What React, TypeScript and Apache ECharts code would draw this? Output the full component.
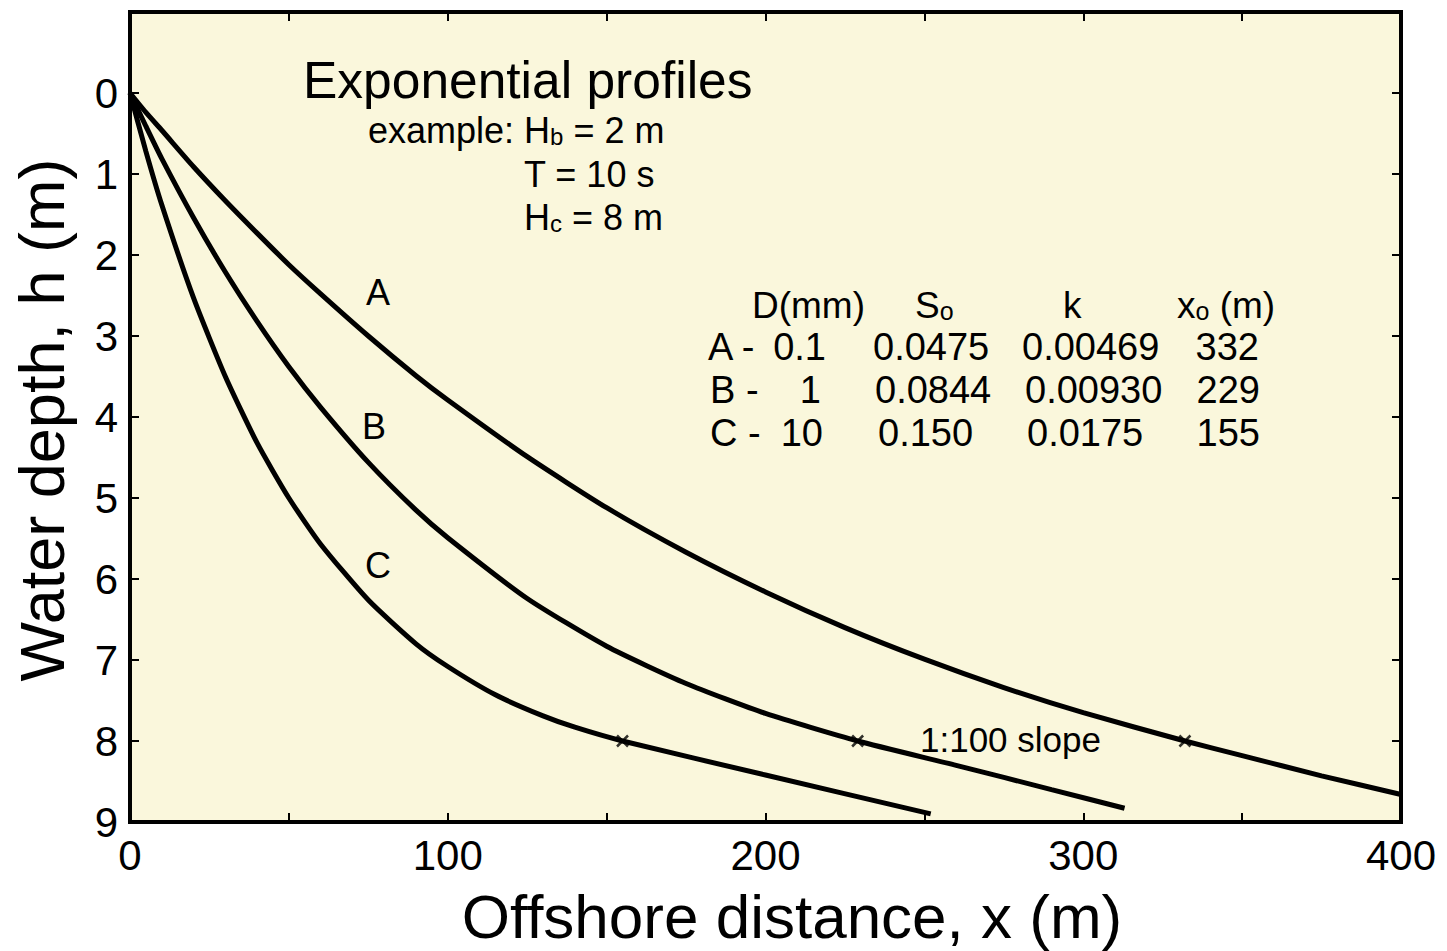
import React, { useEffect, useRef } from "react";
import * as echarts from "echarts";

// Profile A (D = 0.1 mm)
const distA = [0, 5, 10, 20, 30, 40, 50, 60, 75, 90, 100, 125, 150, 175, 200, 225, 250, 275, 300, 332, 350, 375, 400];
const depthA = [0, 0.24, 0.46, 0.91, 1.33, 1.73, 2.12, 2.48, 3.0, 3.49, 3.79, 4.49, 5.12, 5.67, 6.16, 6.6, 6.99, 7.34, 7.65, 8.0, 8.18, 8.43, 8.66];
// Profile B (D = 1 mm)
const distB = [0, 5, 10, 20, 30, 40, 50, 60, 75, 90, 100, 125, 150, 175, 200, 229, 260, 290, 313];
const depthB = [0, 0.41, 0.81, 1.54, 2.21, 2.82, 3.38, 3.88, 4.56, 5.15, 5.49, 6.24, 6.83, 7.29, 7.66, 8.0, 8.3, 8.6, 8.83];
// Profile C (D = 10 mm)
const distC = [0, 5, 10, 20, 30, 40, 50, 60, 75, 90, 100, 115, 130, 140, 155, 200, 252];
const depthC = [0, 0.72, 1.38, 2.53, 3.5, 4.32, 5.0, 5.57, 6.26, 6.8, 7.08, 7.43, 7.69, 7.83, 8.0, 8.42, 8.9];
// x0 points where profiles join the 1:100 slope
const joinDist = [332, 229, 155];
const joinDepth = [8, 8, 8];

const xTickLabels = [0, 100, 200, 300, 400];
const yTickLabels = [0, 1, 2, 3, 4, 5, 6, 7, 8, 9];

const FONT = '"Liberation Sans", Arial, Helvetica, sans-serif';
const BG = "#FAF7DC";

const zip = (xs: number[], ys: number[]) => xs.map((x, i) => [x, ys[i]]);

function txt(text: string, x: number, y: number, fontSize: number, align = "left", extra: any = {}) {
  return {
    type: "text",
    x,
    y,
    z: 100,
    ...extra,
    style: {
      text,
      fontSize,
      fontFamily: FONT,
      fill: "#000",
      align,
      verticalAlign: "middle",
      textAlign: align,
      textVerticalAlign: "middle",
      rich: {
        s: { fontSize: Math.round(fontSize * 0.68), fontFamily: FONT, fill: "#000", verticalAlign: "bottom" },
      },
    },
  };
}

export default function App() {
  const ref = useRef<HTMLDivElement>(null);
  useEffect(() => {
    const chart = echarts.init(ref.current!, null, { renderer: "svg" });
    const lineStyle = { color: "#000", width: 5 };
    const tickStyle = { color: "#000", width: 2 };
    const baseAxis = {
      type: "value",
      axisLine: { show: false, onZero: false },
      splitLine: { show: false },
      axisTick: { inside: true, length: 9, lineStyle: tickStyle },
    };
    const option: any = {
      animation: false,
      backgroundColor: "#fff",
      grid: {
        left: 130,
        right: 46,
        top: 12,
        bottom: 129,
        show: true,
        backgroundColor: BG,
        borderColor: "#000",
        borderWidth: 4,
      },
      xAxis: [
        {
          ...baseAxis,
          min: 0,
          max: 400,
          interval: 50,
          position: "bottom",
          axisLabel: {
            formatter: (v: number) => (xTickLabels.includes(v) ? String(v) : ""),
            fontSize: 42,
            fontFamily: FONT,
            color: "#000",
            margin: 12,
          },
        },
        {
          ...baseAxis,
          min: 0,
          max: 400,
          interval: 50,
          position: "top",
          axisLabel: { show: false },
        },
      ],
      yAxis: [
        {
          ...baseAxis,
          min: -1,
          max: 9,
          interval: 1,
          inverse: true,
          position: "left",
          axisLabel: {
            formatter: (v: number) => (yTickLabels.includes(v) ? String(v) : ""),
            fontSize: 42,
            fontFamily: FONT,
            color: "#000",
            margin: 12,
          },
        },
        {
          ...baseAxis,
          min: -1,
          max: 9,
          interval: 1,
          inverse: true,
          position: "right",
          axisLabel: { show: false },
        },
      ],
      series: [
        { name: "A", type: "line", data: zip(distA, depthA), showSymbol: false, smooth: 0.2, lineStyle, z: 5 },
        { name: "B", type: "line", data: zip(distB, depthB), showSymbol: false, smooth: 0.2, lineStyle, z: 5 },
        { name: "C", type: "line", data: zip(distC, depthC), showSymbol: false, smooth: 0.2, lineStyle, z: 5 },
        {
          name: "x0",
          type: "scatter",
          data: zip(joinDist, joinDepth),
          symbol: "path://M0,0L10,10M10,0L0,10",
          symbolSize: 11,
          itemStyle: { color: "none", borderColor: "#000", borderWidth: 2.5 },
          z: 6,
        },
      ],
      graphic: [
        txt("Water depth, h (m)", 42, 420, 63, "center", { rotation: Math.PI / 2 }),
        txt("Offshore distance, x (m)", 792, 916, 62, "center"),
        txt("Exponential profiles", 303, 80, 51.5),
        txt("example: H{s|b} = 2 m", 368, 130, 36),
        txt("T = 10 s", 524, 174, 36),
        txt("H{s|c} = 8 m", 524, 217, 36),
        txt("A", 378, 292, 36, "center"),
        txt("B", 374, 426, 36, "center"),
        txt("C", 378, 565, 36, "center"),
        txt("D(mm)", 752, 305, 37),
        txt("S{s|o}", 915, 305, 37),
        txt("k", 1063, 305, 37),
        txt("x{s|o} (m)", 1177, 305, 37),
        txt("A -", 708, 347, 38),
        txt("0.1", 826, 347, 38, "right"),
        txt("0.0475", 873, 347, 38),
        txt("0.00469", 1022, 347, 38),
        txt("332", 1259, 347, 38, "right"),
        txt("B -", 710, 390, 38),
        txt("1", 821, 390, 38, "right"),
        txt("0.0844", 875, 390, 38),
        txt("0.00930", 1025, 390, 38),
        txt("229", 1260, 390, 38, "right"),
        txt("C -", 710, 433, 38),
        txt("10", 823, 433, 38, "right"),
        txt("0.150", 878, 433, 38),
        txt("0.0175", 1027, 433, 38),
        txt("155", 1260, 433, 38, "right"),
        txt("1:100 slope", 920, 739, 35),
      ],
    };
    chart.setOption(option);
    return () => chart.dispose();
  }, []);
  return (
    <div
      ref={ref}
      style={{ position: "absolute", left: 0, top: 0, width: 1447, height: 951, background: "#fff" }}
    />
  );
}
